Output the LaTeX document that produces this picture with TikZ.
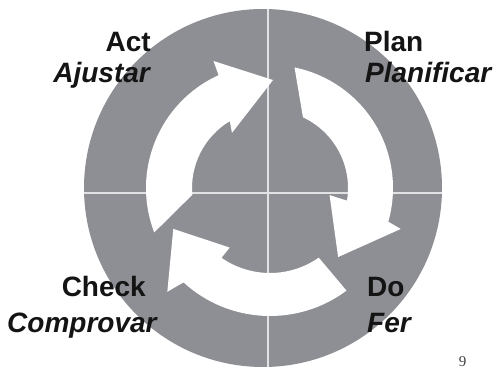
\documentclass[tikz,border=0pt]{standalone}
\usepackage{fontspec}
\setmainfont{Liberation Serif}
\newfontfamily\stagefont{Liberation Sans}

\definecolor{wheelgray}{RGB}{142,143,148}
\definecolor{dividergray}{RGB}{226,226,229}

\tikzset{
		wheel/.style   = {fill=wheelgray},
		divider/.style = {draw=dividergray, line width=1.3pt},
		turn/.style    = {fill=white},
		stage/.style   = {inner sep=0pt, text=black!92,
				font=\stagefont\fontsize{28}{30}\selectfont\bfseries},
		stagetr/.style = {stage, font=\stagefont\fontsize{28}{30}\selectfont\bfseries\itshape},
		pagenum/.style = {inner sep=0pt, font=\fontsize{15}{16}\selectfont, text=black!75}
	}

\begin{document}
\begin{tikzpicture}[x=1pt, y=1pt]
	\useasboundingbox (0,0) rectangle (497,369);

	% grey disc and its quarter lines
	\coordinate (hub) at (263,181);
	\fill[wheel] (hub) circle[radius=179];
	\begin{scope}
		\clip (hub) circle[radius=179];
		\draw[divider] (268,0) -- (268,369);
		\draw[divider] (0,176) -- (497,176);
	\end{scope}

	% the three turning arrows
	\begin{scope}[shift={(270,181)}]
		% act -> plan
		\fill[turn] (201:124) arc[start angle=201, end angle=114.5, radius=124]
			-- (114:139) -- (88.4:108) -- (124.6:67) -- (121:78)
			arc[start angle=121, end angle=185, radius=78] -- cycle;
		% plan -> do
		\fill[turn] (78.5:123) arc[start angle=78.5, end angle=-15.9, radius=123]
			-- (-17.4:137) -- (-45.4:97) -- (-6.8:60) -- (-9.3:78)
			arc[start angle=-9.3, end angle=65, radius=78] -- cycle;
		% check -> act
		\fill[turn] (-53.3:128) arc[start angle=-53.3, end angle=-132.5, radius=128]
			-- (225.3:146) -- (202.9:105) -- (235.9:72) -- (235.2:85)
			arc[start angle=235.2, end angle=305, radius=85] -- cycle;
	\end{scope}

	% stage labels
	\node[stage, anchor=base east]   (act)    at (151,317) {Act};
	\node[stagetr, anchor=base east] (actca)  at (150,286) {Ajustar};
	\node[stage, anchor=base west]   (plan)   at (364,317) {Plan};
	\node[stagetr, anchor=base west] (planca) at (365,286) {Planificar};
	\node[stage, anchor=base east]   (check)  at (146,72)  {Check};
	\node[stagetr, anchor=base west] (checkca) at (7,37)   {Comprovar};
	\node[stage, anchor=base west]   (do)     at (367,72)  {Do};
	\node[stagetr, anchor=base west] (doca)   at (367,37)  {Fer};

	\node[pagenum, anchor=base] (page) at (462.5,3) {9};
\end{tikzpicture}
\end{document}
